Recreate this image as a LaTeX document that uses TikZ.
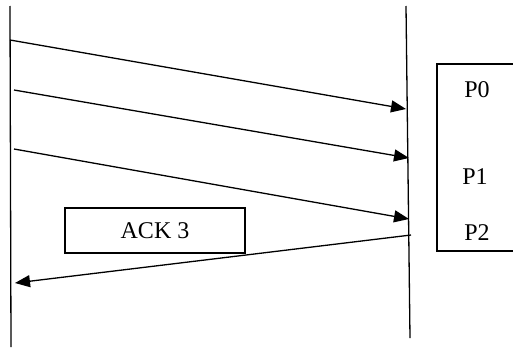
\documentclass[tikz,border=0pt]{standalone}
\usepackage{fontspec}
\setmainfont{Liberation Serif}
\usetikzlibrary{arrows.meta}
\begin{document}
\begin{tikzpicture}[x=1pt,y=-1pt,
  line/.style={line width=1.3pt},
  msg/.style={line width=1.3pt,-{Triangle[length=15pt,width=12pt]}},
  box/.style={draw,line width=1.3pt,inner sep=0pt},
  lbl/.style={font=\fontsize{24}{27}\selectfont,inner sep=0pt}]
\useasboundingbox (0,0) rectangle (513,348);
% lifelines
\coordinate (lt) at (10,6);
\coordinate (lb) at (11,347);
\coordinate (rt) at (406,6);
\coordinate (rb) at (410,338);
\draw[line] (lt) -- (lb);
\draw[line] (rt) -- (rb);
% message ends
\coordinate (s1) at (10,40);
\coordinate (e1) at (406,109);
\coordinate (s2) at (14,90);
\coordinate (e2) at (409,158);
\coordinate (s3) at (14,149);
\coordinate (e3) at (409,219);
\coordinate (s4) at (411,235);
\coordinate (e4) at (15,283);
\draw[msg] (s1) -- (e1);
\draw[msg] (s2) -- (e2);
\draw[msg] (s3) -- (e3);
% ACK box
\node[box,minimum width=180pt,minimum height=45pt] (ack) at (155,230.5) {};
\node[lbl] (acktxt) at (ack.center) {ACK 3};
\draw[msg] (s4) -- (e4);
% packet box
\draw[line] (513,64) -- (437,64) -- (437,251) -- (513,251);
\node[lbl] (p0) at (477,90) {P0};
\node[lbl] (p1) at (475,177) {P1};
\node[lbl] (p2) at (477,233) {P2};
\end{tikzpicture}
\end{document}
